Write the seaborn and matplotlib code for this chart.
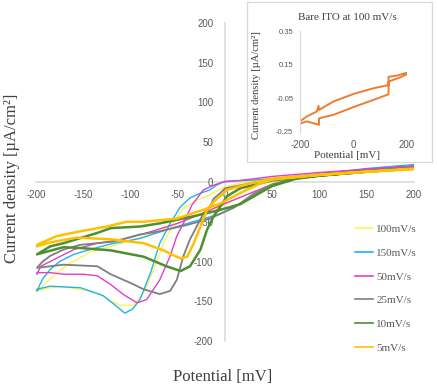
import numpy as np
import matplotlib
matplotlib.use("Agg")
import matplotlib.pyplot as plt
import seaborn as sns

# ---------------- data ----------------
# 100 mV/s
x100 = [200, 150, 100, 50, 25, 0, -16, -30, -44, -55, -65, -76, -86, -97, -111, -120, -132, -143, -160, -171, -185, -199,
        -199, -192, -185, -175, -164, -150, -143, -121, -100, -75, -50, -25, 0, 25, 50, 75, 100, 150, 200]
y100 = [19, 14, 10, 5, 1, -6, -16, -23, -33, -52, -77, -111, -139, -155, -155, -150, -141, -137, -134, -131, -133, -137,
        -138, -130, -122, -112, -102, -93, -88, -81, -74, -64, -52, -40, -28, -15, -2, 6, 10, 15, 20]
# 150 mV/s
x150 = [200, 150, 100, 50, 25, 0, -9, -16, -26, -37, -47, -58, -69, -79, -90, -98, -106, -114, -129, -153, -170, -185, -199,
        -199, -193, -185, -175, -160, -140, -121, -90, -51, -5, 16, 35, 50, 70, 100, 150, 200]
y150 = [17, 13, 9, 4, 2, 1, -4, -10, -14, -20, -31, -52, -77, -115, -148, -160, -165, -157, -143, -133, -132, -131, -135,
        -137, -122, -110, -100, -91, -84, -78, -71, -56, -40, -27, -14, -5, 4, 10, 17, 22]
# 50 mV/s
x50 = [200, 150, 100, 50, 37, 16, -2, -12, -23, -35, -44, -51, -58, -69, -83, -93, -107, -121, -135, -150, -171, -185, -199,
       -199, -195, -185, -160, -135, -107, -80, -50, -25, 0, 25, 50, 75, 100, 150, 200]
y50 = [20, 16, 12, 7, 5, 2, 0, -4, -10, -29, -52, -68, -93, -123, -148, -152, -142, -129, -118, -116, -116, -114, -114,
       -116, -106, -100, -85, -77, -72, -63, -52, -40, -27, -15, -3, 5, 10, 16, 20]
# 25 mV/s
x25 = [200, 150, 100, 50, 25, 0, -5, -12, -16, -23, -30, -37, -44, -51, -58, -69, -86, -100, -121, -135, -171, -199,
       -199, -193, -185, -171, -153, -118, -90, -69, -40, -16, 10, 30, 50, 75, 100, 150, 200]
y25 = [18, 14, 10, 4, -2, -8, -14, -21, -31, -40, -56, -72, -93, -123, -137, -141, -135, -127, -116, -106, -104, -108,
       -108, -100, -93, -85, -79, -75, -66, -62, -54, -46, -32, -15, -3, 5, 9, 14, 18]
# 10 mV/s
x10 = [200, 150, 100, 50, 16, 2, -5, -12, -19, -26, -37, -47, -62, -86, -121, -153, -171, -199,
       -199, -185, -171, -135, -121, -90, -69, -33, -5, 16, 35, 50, 75, 100, 150, 200]
y10 = [17, 13, 8, 2, -8, -18, -31, -43, -60, -85, -106, -112, -106, -94, -86, -83, -82, -91,
       -91, -81, -77, -64, -58, -56, -52, -43, -35, -28, -15, -5, 4, 8, 13, 17]
# 5 mV/s
x5 = [200, 150, 100, 50, 25, 2, -12, -19, -26, -33, -40, -47, -55, -65, -86, -121, -157, -185, -199,
      -199, -178, -153, -125, -104, -86, -51, -23, -5, 16, 37, 50, 100, 150, 200]
y5 = [16, 13, 9, 4, -2, -10, -25, -35, -56, -77, -94, -96, -92, -86, -77, -72, -70, -76, -81,
      -79, -68, -62, -56, -50, -50, -46, -35, -27, -14, -2, 3, 9, 13, 17]

labels = ["100mV/s", "150mV/s", "50mV/s", "25mV/s", "10mV/s", "5mV/s"]
colors = ["#FFF05A", "#1EB4F0", "#E040C8", "#7F7F7F", "#4F8F2F", "#FFC000"]
widths = [1.0, 1.0, 1.0, 1.3, 1.8, 1.8]
xs = [x100, x150, x50, x25, x10, x5]
ys = [y100, y150, y50, y25, y10, y5]

# inset: Bare ITO at 100 mV/s
xi = [-200, -175, -137, -131, -128, -125, -75, 0, 75, 125, 131, 131, 162, 200,
      200, 175, 137, 131, 131, 75, 0, -75, -125, -129, -129, -175, -200]
yi = [-0.187, -0.158, -0.128, -0.095, -0.12, -0.115, -0.069, -0.024, 0.010, 0.027, 0.025, 0.078, 0.085, 0.102,
      0.094, 0.075, 0.053, 0.05, -0.026, -0.059, -0.102, -0.148, -0.167, -0.17, -0.207, -0.187, -0.20]

main_ticks = [-200, -150, -100, -50, 0, 50, 100, 150, 200]
inset_yticks = [-0.25, -0.05, 0.15, 0.35]
inset_ytick_labels = ["-0.25", "-0.05", "0.15", "0.35"]
inset_xticks = [-200, 0, 200]

# ---------------- figure ----------------
W, H = 437, 390
fig = plt.figure(figsize=(W / 100, H / 100), dpi=100)
ax = fig.add_axes([36 / W, 49 / H, 378 / W, 318 / H])

for x, y, lab, c, lw in zip(xs, ys, labels, colors, widths):
    sns.lineplot(x=x, y=y, sort=False, estimator=None, color=c, linewidth=lw,
                 label=lab, ax=ax, zorder=3)

ax.set_xlim(-200, 200)
ax.set_ylim(-200, 200)
ax.set_xticks(main_ticks)
ax.set_yticks(main_ticks)
ax.set_xticklabels([str(t) for t in main_ticks])
ax.set_yticklabels([str(t) for t in main_ticks])
ax.set_xlabel("")
ax.set_ylabel("")
ax.spines["left"].set_position(("data", 0))
ax.spines["bottom"].set_position(("data", 0))
for s in ["left", "bottom"]:
    ax.spines[s].set_color("#D9D9D9")
    ax.spines[s].set_linewidth(1.1)
    ax.spines[s].set_zorder(1)
for s in ["top", "right"]:
    ax.spines[s].set_visible(False)
ax.tick_params(length=0, labelsize=7, labelcolor="#595959")
ax.tick_params(axis="x", pad=6)
ax.tick_params(axis="y", pad=8.5)
for t in ax.get_xticklabels() + ax.get_yticklabels():
    t.set_fontfamily("Liberation Sans")
ax.set_facecolor("none")

fig.text(12 / W, 1 - 178.5 / H, "Current density [µA/cm²]", rotation=90, ha="center", va="center",
         fontsize=12, family="Liberation Serif", color="#404040")
fig.text(223 / W, 1 - 376.7 / H, "Potential [mV]", ha="center", va="center",
         fontsize=12, family="Liberation Serif", color="#404040")

leg = ax.legend(loc="upper left", bbox_to_anchor=(355 / W, 1 - 224.5 / H), bbox_transform=fig.transFigure,
                frameon=False, prop={"family": "Liberation Serif", "size": 8}, labelcolor="#595959",
                handlelength=1.6, handletextpad=0.3, labelspacing=1.25, borderpad=0, borderaxespad=0)
for ln in leg.get_lines():
    ln.set_linewidth(1.2)

# inset frame
bx = fig.add_axes([247 / W, 228 / H, 185 / W, 160 / H])
bx.set_xticks([])
bx.set_yticks([])
for sp in bx.spines.values():
    sp.set_color("#D9D9D9")
    sp.set_linewidth(0.9)
bx.set_zorder(5)
bx.set_facecolor("white")

ix = fig.add_axes([300 / W, 258 / H, 107 / W, 101 / H])
ix.set_zorder(6)
ix.patch.set_alpha(0)
sns.lineplot(x=xi, y=yi, sort=False, estimator=None, color="#ED7D31", linewidth=1.4, ax=ix)
ix.set_xlim(-200, 200)
ix.set_ylim(-0.25, 0.35)
ix.set_yticks(inset_yticks)
ix.set_yticklabels(inset_ytick_labels)
ix.set_xticks(inset_xticks)
ix.set_xticklabels([str(t) for t in inset_xticks])
ix.set_xlabel("")
ix.set_ylabel("")
for s in ["top", "right", "bottom"]:
    ix.spines[s].set_visible(False)
ix.spines["left"].set_color("#D9D9D9")
ix.spines["left"].set_linewidth(0.9)
ix.tick_params(length=0, labelcolor="#595959")
ix.tick_params(axis="y", labelsize=5.5, pad=4.8)
ix.tick_params(axis="x", labelsize=7, pad=6)
for t in ix.get_xticklabels() + ix.get_yticklabels():
    t.set_fontfamily("Liberation Sans")

fig.text(347.5 / W, 1 - 17.3 / H, "Bare ITO at 100 mV/s", ha="center", va="center",
         fontsize=8, family="Liberation Serif", color="#404040", zorder=10)
fig.text(256.7 / W, 1 - 85 / H, "Current density [µA/cm²]", rotation=90, ha="center", va="center",
         fontsize=7.6, family="Liberation Serif", color="#404040", zorder=10)
fig.text(346.7 / W, 1 - 155.3 / H, "Potential [mV]", ha="center", va="center",
         fontsize=7.9, family="Liberation Serif", color="#404040", zorder=10)

fig.savefig("out.png", dpi=100)
